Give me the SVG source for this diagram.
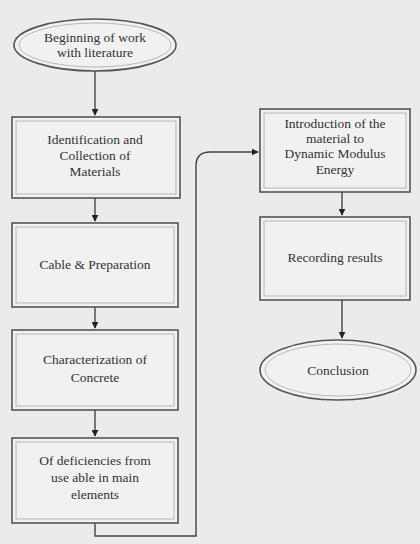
<svg xmlns="http://www.w3.org/2000/svg" width="420" height="544" viewBox="0 0 420 544">
<defs>
<marker id="ah" viewBox="0 0 10 10" refX="9" refY="5" markerWidth="5" markerHeight="5" orient="auto">
<path d="M0,0 L10,5 L0,10 z" fill="#222"/>
</marker>
<style>
.bx{fill:#f1f1f1;stroke:#555;stroke-width:1.6}
.in{fill:none;stroke:#aaa;stroke-width:0.8}
.t{font-family:"Liberation Serif",serif;font-size:13.5px;fill:#333;text-anchor:middle}
.c{fill:none;stroke:#444;stroke-width:1.4}
</style>
</defs>
<rect width="420" height="544" fill="#ebebeb"/>
<g id="start">
<ellipse cx="95" cy="45" rx="81" ry="26" class="bx"/>
<ellipse cx="95" cy="45" rx="76" ry="22" class="in"/>
<text class="t" x="95" y="42">Beginning of work</text>
<text class="t" x="95" y="57">with literature</text>
</g>
<g id="n1">
<rect x="12" y="117" width="168" height="81" class="bx"/>
<rect x="16" y="121" width="160" height="73" class="in"/>
<text class="t" x="95" y="144">Identification and</text>
<text class="t" x="95" y="160">Collection of</text>
<text class="t" x="95" y="176">Materials</text>
</g>
<g id="n2">
<rect x="12" y="223" width="166" height="84" class="bx"/>
<rect x="16" y="227" width="158" height="76" class="in"/>
<text class="t" x="95" y="269">Cable &amp; Preparation</text>
</g>
<g id="n3">
<rect x="12" y="330" width="166" height="80" class="bx"/>
<rect x="16" y="334" width="158" height="72" class="in"/>
<text class="t" x="95" y="364">Characterization of</text>
<text class="t" x="95" y="382">Concrete</text>
</g>
<g id="n4">
<rect x="12" y="438" width="166" height="85" class="bx"/>
<rect x="16" y="442" width="158" height="77" class="in"/>
<text class="t" x="95" y="465">Of deficiencies from</text>
<text class="t" x="95" y="482">use able in main</text>
<text class="t" x="95" y="499">elements</text>
</g>
<g id="n5">
<rect x="260" y="109" width="150" height="83" class="bx"/>
<rect x="264" y="113" width="142" height="75" class="in"/>
<text class="t" x="335" y="128">Introduction of the</text>
<text class="t" x="335" y="143">material to</text>
<text class="t" x="335" y="158">Dynamic Modulus</text>
<text class="t" x="335" y="174">Energy</text>
</g>
<g id="n6">
<rect x="260" y="217" width="150" height="83" class="bx"/>
<rect x="264" y="221" width="142" height="75" class="in"/>
<text class="t" x="335" y="262">Recording results</text>
</g>
<g id="end">
<ellipse cx="338" cy="370" rx="78" ry="30" class="bx"/>
<ellipse cx="338" cy="370" rx="73" ry="26" class="in"/>
<text class="t" x="338" y="375">Conclusion</text>
</g>
<g id="connectors">
<path d="M95,71 V115" class="c" marker-end="url(#ah)"/>
<path d="M95,198 V221" class="c" marker-end="url(#ah)"/>
<path d="M95,307 V328" class="c" marker-end="url(#ah)"/>
<path d="M95,410 V436" class="c" marker-end="url(#ah)"/>
<path d="M95,523 V536 H196 V166 Q196,152 210,152 H258" class="c" marker-end="url(#ah)"/>
<path d="M342,192 V215" class="c" marker-end="url(#ah)"/>
<path d="M342,300 V338" class="c" marker-end="url(#ah)"/>
</g>
</svg>
